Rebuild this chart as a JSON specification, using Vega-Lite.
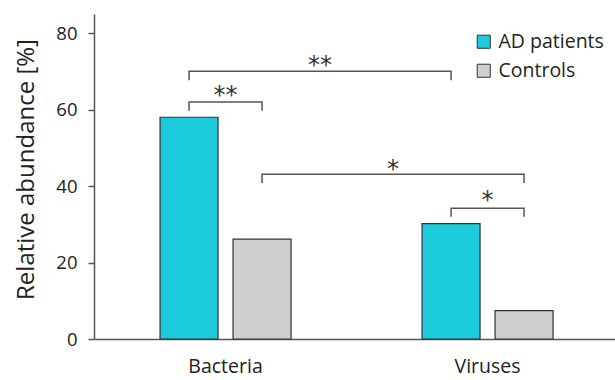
{
  "$schema": "https://vega.github.io/schema/vega-lite/v6.json",
  "width": 521,
  "height": 325,
  "autosize": "none",
  "padding": {"left": 94, "top": 14, "right": 0, "bottom": 41},
  "background": "white",
  "config": {
    "view": {"stroke": null},
    "font": "Open Sans",
    "axis": {"domainColor": "#555555", "domainWidth": 1.5, "tickColor": "#555555", "tickWidth": 1.5, "labelColor": "#222222", "titleColor": "#222222", "grid": false, "labelFontWeight": "normal"}
  },
  "datasets": {
    "bars": [
      {"category": "Bacteria", "group": "AD patients", "value": 58},
      {"category": "Bacteria", "group": "Controls", "value": 26.1},
      {"category": "Viruses", "group": "AD patients", "value": 30.2},
      {"category": "Viruses", "group": "Controls", "value": 7.4}
    ],
    "brackets": [
      {"id": 1, "step": 1, "category": "Bacteria", "group": "AD patients", "y": 59.7},
      {"id": 1, "step": 2, "category": "Bacteria", "group": "AD patients", "y": 62},
      {"id": 1, "step": 3, "category": "Bacteria", "group": "Controls", "y": 62},
      {"id": 1, "step": 4, "category": "Bacteria", "group": "Controls", "y": 59.7},
      {"id": 2, "step": 1, "category": "Bacteria", "group": "AD patients", "y": 67.7},
      {"id": 2, "step": 2, "category": "Bacteria", "group": "AD patients", "y": 70},
      {"id": 2, "step": 3, "category": "Viruses", "group": "AD patients", "y": 70},
      {"id": 2, "step": 4, "category": "Viruses", "group": "AD patients", "y": 67.7},
      {"id": 3, "step": 1, "category": "Bacteria", "group": "Controls", "y": 40.8},
      {"id": 3, "step": 2, "category": "Bacteria", "group": "Controls", "y": 43.1},
      {"id": 3, "step": 3, "category": "Viruses", "group": "Controls", "y": 43.1},
      {"id": 3, "step": 4, "category": "Viruses", "group": "Controls", "y": 40.8},
      {"id": 4, "step": 1, "category": "Viruses", "group": "AD patients", "y": 32},
      {"id": 4, "step": 2, "category": "Viruses", "group": "AD patients", "y": 34.2},
      {"id": 4, "step": 3, "category": "Viruses", "group": "Controls", "y": 34.2},
      {"id": 4, "step": 4, "category": "Viruses", "group": "Controls", "y": 32}
    ],
    "starsWithin": [
      {"category": "Bacteria", "y": 64.6, "label": "**"},
      {"category": "Viruses", "y": 37.1, "label": "*"}
    ],
    "starsBetween": [
      {"category": " ", "group": "AD patients", "y": 72.5, "label": "**"},
      {"category": " ", "group": "Controls", "y": 45.3, "label": "*"}
    ]
  },
  "layer": [
    {
      "data": {"name": "bars"},
      "mark": {"type": "bar", "stroke": "#333333", "strokeWidth": 1.2},
      "encoding": {
        "x": {
          "field": "category", "type": "nominal",
          "scale": {"domain": ["Bacteria", " ", "Viruses"], "paddingInner": 0, "paddingOuter": 0.4885, "align": 0.516},
          "axis": {"title": null, "labelAngle": 0, "ticks": false, "labelFontSize": 19.5, "labelPadding": 18, "labelFontWeight": "normal"}
        },
        "y": {
          "field": "value", "type": "quantitative",
          "scale": {"domain": [0, 85], "nice": false},
          "axis": {"values": [0, 20, 40, 60, 80], "title": "Relative abundance [%]", "titleFontSize": 24, "titleFontWeight": "normal", "titlePadding": 17, "titleY": 155, "labelFontSize": 18.5, "tickSize": 6, "labelPadding": 11}
        },
        "xOffset": {"field": "group", "type": "nominal", "scale": {"paddingInner": 0.2055, "paddingOuter": 0}},
        "color": {
          "field": "group", "type": "nominal",
          "scale": {"domain": ["AD patients", "Controls"], "range": ["#1CCBDC", "#D0CECE"]},
          "legend": {"title": null, "orient": "none", "legendX": 380, "legendY": 18, "symbolType": "square", "symbolSize": 170, "symbolStrokeColor": "#333333", "symbolStrokeWidth": 1, "labelFontSize": 19.5, "labelColor": "#222222", "rowPadding": 8, "labelOffset": 5}
        }
      }
    },
    {
      "data": {"name": "brackets"},
      "mark": {"type": "line", "stroke": "#555555", "strokeWidth": 1.5, "interpolate": "linear"},
      "encoding": {
        "x": {"field": "category", "type": "nominal"},
        "xOffset": {"field": "group", "type": "nominal"},
        "y": {"field": "y", "type": "quantitative"},
        "detail": {"field": "id", "type": "nominal"},
        "order": {"field": "step", "type": "quantitative"}
      }
    },
    {
      "data": {"name": "starsWithin"},
      "mark": {"type": "text", "font": "DejaVu Sans", "fontSize": 24, "baseline": "middle", "align": "center", "color": "#333333", "dy": 4},
      "encoding": {
        "x": {"field": "category", "type": "nominal"},
        "y": {"field": "y", "type": "quantitative"},
        "text": {"field": "label"}
      }
    },
    {
      "data": {"name": "starsBetween"},
      "mark": {"type": "text", "font": "DejaVu Sans", "fontSize": 24, "baseline": "middle", "align": "center", "color": "#333333", "dy": 4},
      "encoding": {
        "x": {"field": "category", "type": "nominal"},
        "xOffset": {"field": "group", "type": "nominal"},
        "y": {"field": "y", "type": "quantitative"},
        "text": {"field": "label"}
      }
    },
    {
      "mark": {"type": "rule", "stroke": "#555555", "strokeWidth": 1.5},
      "encoding": {
        "y": {"datum": 85}
      }
    }
  ]
}
